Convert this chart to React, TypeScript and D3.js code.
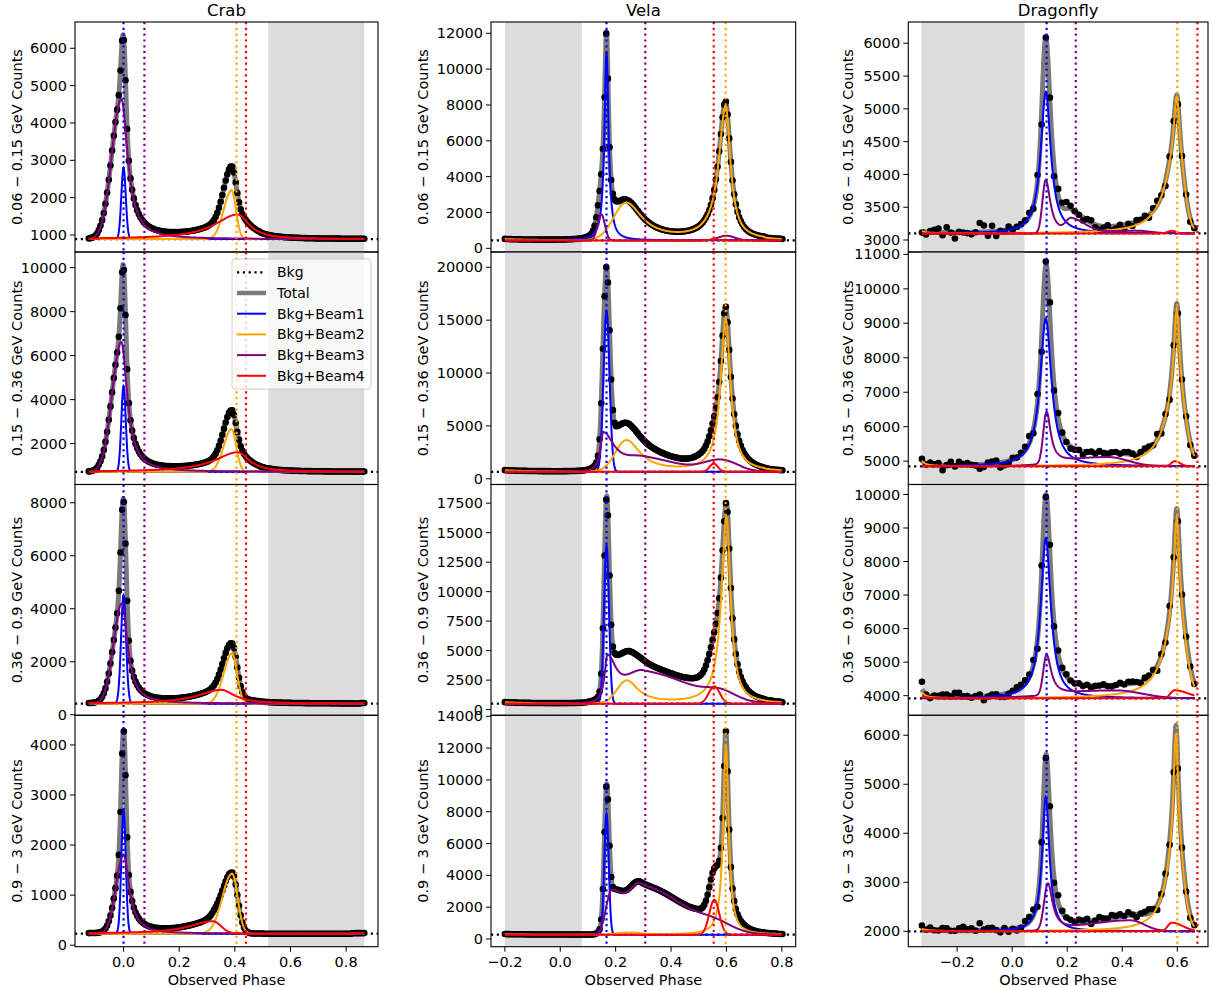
import { useMemo } from 'react';
import * as d3 from 'd3';

// peak: [centre phase, height above bkg, left width, right width, left/right shape]
// shape letters: G gaussian, L lorentzian, Q squared lorentzian
type Peak = [number, number, number, number, string];

const W = 1212;
const H = 987;
const FONT = 'DejaVu Sans, Verdana, sans-serif';

const PULSARS = ['Crab', 'Vela', 'Dragonfly'];
const BANDS = ['0.06 − 0.15', '0.15 − 0.36', '0.36 − 0.9', '0.9 − 3'];
const BEAM_NAMES = ['Bkg+Beam1', 'Bkg+Beam2', 'Bkg+Beam3', 'Bkg+Beam4'];
const BEAM_COLORS = ['#0000ff', '#ffa500', '#800080', '#ff0000'];

// ---- Crab ----
const CRAB_PHASE = [-0.125, 0.865, 0.006];
const CRAB_BKG = [890, 715, 420, 230];
const CRAB_BEAM1: Peak[][] = [
  [[0.0, 1910, 0.008, 0.008, 'GG']],
  [[0.0, 3890, 0.008, 0.008, 'GG']],
  [[0.0, 4090, 0.009, 0.009, 'GG']],
  [[0.0, 2460, 0.008, 0.008, 'GG']],
];
const CRAB_BEAM2: Peak[][] = [
  [[0.388, 1310, 0.028, 0.016, 'GG']],
  [[0.388, 1940, 0.028, 0.017, 'GG']],
  [[0.39, 1900, 0.03, 0.018, 'GG']],
  [[0.39, 1200, 0.035, 0.02, 'GG']],
];
const CRAB_BEAM3: Peak[][] = [
  [[-0.008, 3750, 0.034, 0.028, 'GL']],
  [[-0.008, 5900, 0.033, 0.026, 'GL']],
  [[-0.006, 3780, 0.03, 0.025, 'GL']],
  [[0.0, 1580, 0.027, 0.025, 'GL']],
];
const CRAB_BEAM4: Peak[][] = [
  [[0.41, 660, 0.1, 0.05, 'LL']],
  [[0.41, 890, 0.1, 0.05, 'LL']],
  [[0.35, 520, 0.1, 0.06, 'LL']],
  [[0.32, 250, 0.1, 0.03, 'LG']],
];
const CRAB_YLIM = [[545, 6704], [140, 10712], [-20, 8690], [-30, 4592]];
const CRAB_YTICKS = [
  [1000, 2000, 3000, 4000, 5000, 6000],
  [2000, 4000, 6000, 8000, 10000],
  [0, 2000, 4000, 6000, 8000],
  [0, 1000, 2000, 3000, 4000],
];
const CRAB_XTICKS = [0, 0.2, 0.4, 0.6, 0.8];
const CRAB_LINES = [0.0, 0.406, 0.075, 0.44];
const CRAB_SPAN = [0.52, 0.865];

// ---- Vela ----
const VELA_PHASE = [-0.2, 0.8, 0.006];
const VELA_BKG = [440, 660, 500, 270];
const VELA_BEAM1: Peak[][] = [
  [[0.167, 10500, 0.009, 0.009, 'LL']],
  [[0.167, 15200, 0.011, 0.011, 'GG']],
  [[0.167, 13420, 0.009, 0.009, 'GG']],
  [[0.167, 7600, 0.008, 0.008, 'GG']],
];
const VELA_BEAM2: Peak[][] = [
  [[0.238, 2060, 0.045, 0.07, 'GL'], [0.597, 7430, 0.03, 0.021, 'LL']],
  [[0.239, 2950, 0.04, 0.06, 'GL'], [0.597, 14440, 0.022, 0.021, 'LL']],
  [[0.24, 1920, 0.035, 0.05, 'GL'], [0.6, 15800, 0.022, 0.018, 'LL']],
  [[0.25, 130, 0.04, 0.04, 'GG'], [0.598, 11900, 0.012, 0.012, 'LL']],
];
const VELA_BEAM3: Peak[][] = [
  [[0.148, 1460, 0.013, 0.013, 'GG'], [0.6, 260, 0.03, 0.03, 'GG']],
  [[0.155, 3700, 0.012, 0.05, 'LL'], [0.3, 1100, 0.06, 0.12, 'GG'], [0.58, 1050, 0.06, 0.06, 'GG']],
  [[0.17, 3900, 0.012, 0.04, 'LL'], [0.3, 2500, 0.06, 0.17, 'GG'], [0.58, 600, 0.05, 0.05, 'GG']],
  [[0.185, 2700, 0.02, 0.045, 'GG'], [0.29, 3050, 0.04, 0.15, 'GG'], [0.56, 450, 0.06, 0.06, 'GG']],
];
const VELA_BEAM4: Peak[][] = [
  [[0.554, 40, 0.02, 0.02, 'GG']],
  [[0.554, 780, 0.015, 0.015, 'GG']],
  [[0.556, 1470, 0.02, 0.02, 'GG']],
  [[0.556, 2190, 0.018, 0.018, 'GG']],
];
const VELA_YLIM = [[-206, 12631], [-538, 21443], [-482, 19083], [-483, 14063]];
const VELA_YTICKS = [
  [0, 2000, 4000, 6000, 8000, 10000, 12000],
  [0, 5000, 10000, 15000, 20000],
  [0, 2500, 5000, 7500, 10000, 12500, 15000, 17500],
  [0, 2000, 4000, 6000, 8000, 10000, 12000, 14000],
];
const VELA_XTICKS = [-0.2, 0, 0.2, 0.4, 0.6, 0.8];
const VELA_LINES = [0.167, 0.597, 0.307, 0.554];
const VELA_SPAN = [-0.2, 0.078];

// ---- Dragonfly ----
const DRAG_PHASE = [-0.328, 0.662, 0.015];
const DRAG_BKG = [3100, 4850, 3920, 2000];
const DRAG_BEAM1: Peak[][] = [
  [[0.122, 2160, 0.022, 0.022, 'LL']],
  [[0.122, 4280, 0.025, 0.025, 'LL']],
  [[0.122, 4770, 0.022, 0.022, 'LL']],
  [[0.122, 2740, 0.016, 0.016, 'LL']],
];
// second pulse: sharp core on a broader base
const DRAG_BEAM2: Peak[][] = [
  [[0.598, 900, 0.012, 0.012, 'LL'], [0.598, 1185, 0.05, 0.025, 'LG']],
  [[0.598, 2500, 0.012, 0.012, 'LL'], [0.598, 2070, 0.05, 0.03, 'LG']],
  [[0.598, 2950, 0.012, 0.012, 'LL'], [0.598, 2450, 0.05, 0.03, 'LG']],
  [[0.595, 2300, 0.01, 0.01, 'LL'], [0.595, 1730, 0.04, 0.025, 'LG']],
];
const DRAG_BEAM3: Peak[][] = [
  [[0.122, 815, 0.012, 0.02, 'GL'], [0.215, 200, 0.02, 0.05, 'GG'], [0.45, 40, 0.1, 0.05, 'GG']],
  [[0.125, 1500, 0.012, 0.018, 'GL'], [0.35, 260, 0.15, 0.07, 'GG']],
  [[0.125, 1200, 0.012, 0.02, 'GL'], [0.38, 230, 0.2, 0.09, 'GG']],
  [[0.13, 950, 0.014, 0.02, 'GL'], [0.43, 220, 0.15, 0.05, 'GG']],
];
const DRAG_BEAM4: Peak[][] = [
  [[0.58, 40, 0.015, 0.015, 'GG']],
  [[0.59, 150, 0.012, 0.02, 'GG']],
  [[0.59, 240, 0.015, 0.05, 'GG']],
  [[0.58, 175, 0.015, 0.04, 'GG']],
];
// scatter of the binned counts about the fit
const DRAG_RESID = [
  [-30, -40, 20, 40, 60, -40, 80, 0, -90, 10, 0, -10, -30, 0, 140, 100, -60, 90, -70, 0, -20, 50, -10, 10, 20,
    30, 60, -40, 100, -200, 0, 60, -150, 100, 60, 100,
    40, 0, -10, -50, 20, 40, -40, -60, -20, 20, -60, -40, 10, -70, 0, -50, 20, 0, 30, -40, 40, 60, 0, -80, 40, 50, -30, 30, 20, -50, 0],
  [40, -30, 60, 20, 60, -150, 0, 100, -40, 100, 30, 60, 0, -20, -120, -80, 40, 60, 80, -140, -100, -60, 50, 0, 60,
    100, 200, -100, 250, -400, 100, 450, -150, 150, 40, 0,
    -60, -20, 20, -100, 0, 20, -40, 40, -20, -60, 0, 20, -20, 50, 60, 20, -80, 40, 100, 80, 0, 150, -100, 60, -200, 20, 0, 40, 60, -80, 0],
  [230, -20, -70, 30, 30, 80, 80, 30, 130, 130, 30, 30, -20, 30, 60, -120, -20, 30, 30, -70, -90, -20, 30, 80, 80,
    100, 80, 150, -300, 200, -60, 300, -100, 120, 40, 60,
    0, -20, 30, -30, 20, -60, 0, 10, 40, -20, -40, 0, 50, -10, 60, 50, 20, -50, 60, 40, 80, -150, 40, -100, 150, 0, -60, 20, 40, 0, -20],
  [50, 0, 50, 0, 0, 50, 50, 0, 0, 50, 80, 30, 50, 0, 150, 20, 50, 50, 0, -50, 30, -50, 0, -50, -20,
    80, 100, 120, -150, 80, -50, 200, -100, 150, 40, 0,
    0, -20, 40, 20, 50, -60, 0, 60, 20, 0, 60, 30, 50, 0, 60, 0, -60, 20, 50, 80, 30, -100, 20, 50, -60, 0, -40, 20, 0, -50, 0],
];
const DRAG_YLIM = [[2817, 6325], [4323, 11069], [3415, 10297], [1686, 6407]];
const DRAG_YTICKS = [
  [3000, 3500, 4000, 4500, 5000, 5500, 6000],
  [5000, 6000, 7000, 8000, 9000, 10000, 11000],
  [4000, 5000, 6000, 7000, 8000, 9000, 10000],
  [2000, 3000, 4000, 5000, 6000],
];
const DRAG_XTICKS = [-0.2, 0, 0.2, 0.4, 0.6];
const DRAG_LINES = [0.125, 0.6, 0.231, 0.673];
const DRAG_SPAN = [-0.33, 0.045];

// ---- layout ----
const COL_X = [[75, 378], [491, 795.7], [908.3, 1208]];
const ROW_Y = [22, 252, 484.5, 715.3, 946.7];
const YLAB_X = [21.5, 428, 853];

const PULSAR_DATA = [
  { phase: CRAB_PHASE, bkg: CRAB_BKG, beams: [CRAB_BEAM1, CRAB_BEAM2, CRAB_BEAM3, CRAB_BEAM4], ylim: CRAB_YLIM, yticks: CRAB_YTICKS, xticks: CRAB_XTICKS, lines: CRAB_LINES, span: CRAB_SPAN, resid: null as number[][] | null },
  { phase: VELA_PHASE, bkg: VELA_BKG, beams: [VELA_BEAM1, VELA_BEAM2, VELA_BEAM3, VELA_BEAM4], ylim: VELA_YLIM, yticks: VELA_YTICKS, xticks: VELA_XTICKS, lines: VELA_LINES, span: VELA_SPAN, resid: null as number[][] | null },
  { phase: DRAG_PHASE, bkg: DRAG_BKG, beams: [DRAG_BEAM1, DRAG_BEAM2, DRAG_BEAM3, DRAG_BEAM4], ylim: DRAG_YLIM, yticks: DRAG_YTICKS, xticks: DRAG_XTICKS, lines: DRAG_LINES, span: DRAG_SPAN, resid: DRAG_RESID },
];

function profile(u: number, k: string) {
  if (k === 'G') return Math.exp(-0.5 * u * u);
  if (k === 'L') return 1 / (1 + u * u);
  const s = 1 + u * u;
  return 1 / (s * s);
}

function beamAt(peaks: Peak[], x: number) {
  let v = 0;
  for (const [mu, amp, wl, wr, kind] of peaks) {
    let dx = x - mu;
    dx -= Math.round(dx); // phase wraps around
    const left = dx < 0;
    v += amp * profile(dx / (left ? wl : wr), kind[left ? 0 : 1]);
  }
  return v;
}

const fmtX = d3.format('.1f');

function Panel({ col, row }: { col: number; row: number }) {
  const d = PULSAR_DATA[col];
  const [lo, hi, step] = d.phase;
  const pad = (hi - lo) * 0.05;
  const [left, right] = COL_X[col];
  const top = ROW_Y[row];
  const bottom = ROW_Y[row + 1];
  const x = d3.scaleLinear().domain([lo - pad, hi + pad]).range([left, right]);
  const y = d3.scaleLinear().domain(d.ylim[row]).range([bottom, top]);
  const bkg = d.bkg[row];
  const beams = d.beams.map(b => b[row]);
  const id = `clip-${col}-${row}`;

  const { curves, total, dots } = useMemo(() => {
    const xs = d3.range(lo, hi + 1e-9, 0.001);
    const totalFn = (p: number) => bkg + d3.sum(beams, b => beamAt(b, p));
    const line = d3.line<[number, number]>().x(v => x(v[0])).y(v => y(v[1]));
    const curves = beams.map(b => line(xs.map(p => [p, bkg + beamAt(b, p)] as [number, number])) || '');
    const total = line(xs.map(p => [p, totalFn(p)] as [number, number])) || '';
    const n = Math.round((hi - lo) / step);
    const dots = d3.range(n + 1).map(i => {
      const p = lo + i * step;
      const r = d.resid ? d.resid[row][i] ?? 0 : 0;
      return [x(p), y(totalFn(p) + r)];
    });
    return { curves, total, dots };
  }, [col, row]);

  return (
    <g>
      <defs>
        <clipPath id={id}>
          <rect x={left} y={top} width={right - left} height={bottom - top} />
        </clipPath>
      </defs>
      <g clipPath={`url(#${id})`}>
        <rect x={x(d.span[0])} y={top} width={x(d.span[1]) - x(d.span[0])} height={bottom - top} fill="#dcdcdc" />
        <path d={total} fill="none" stroke="#7a7a7a" strokeWidth={5} strokeLinejoin="round" />
        {dots.map((p, i) => (
          <circle key={i} cx={p[0]} cy={p[1]} r={3.3} fill="#000" />
        ))}
        <line x1={left} x2={right} y1={y(bkg)} y2={y(bkg)} stroke="#000" strokeWidth={2.2} strokeDasharray="2.2 3.6" />
        {curves.map((c, k) => (
          <path key={k} d={c} fill="none" stroke={BEAM_COLORS[k]} strokeWidth={2} />
        ))}
        {d.lines.map((v, k) => (
          <line key={k} x1={x(v)} x2={x(v)} y1={top} y2={bottom} stroke={BEAM_COLORS[k]} strokeWidth={2.2} strokeDasharray="2.2 3.6" />
        ))}
      </g>
      {d.yticks[row].map(t => (
        <g key={t}>
          <line x1={left - 5} x2={left} y1={y(t)} y2={y(t)} stroke="#000" strokeWidth={1} />
          <text x={left - 8} y={y(t)} dy="0.35em" textAnchor="end" fontSize={14.5}>{t}</text>
        </g>
      ))}
      {row === 3 && d.xticks.map(t => (
        <g key={t}>
          <line x1={x(t)} x2={x(t)} y1={bottom} y2={bottom + 5} stroke="#000" strokeWidth={1} />
          <text x={x(t)} y={bottom + 20.5} textAnchor="middle" fontSize={14.5}>{fmtX(t)}</text>
        </g>
      ))}
      <text transform={`translate(${YLAB_X[col]},${(top + bottom) / 2}) rotate(-90)`} textAnchor="middle" fontSize={14.5}>
        {`${BANDS[row]} GeV Counts`}
      </text>
      <rect x={left} y={top} width={right - left} height={bottom - top} fill="none" stroke="#000" strokeWidth={1.1} />
    </g>
  );
}

function Legend() {
  const x0 = 232;
  const y0 = 259;
  const rowY = (i: number) => 272.3 + i * 20.7;
  const entries = [
    { name: 'Bkg', color: '#000', width: 2.2, dash: '2.2 3.6' },
    { name: 'Total', color: '#7a7a7a', width: 4.5, dash: undefined },
    ...BEAM_NAMES.map((name, k) => ({ name, color: BEAM_COLORS[k], width: 2, dash: undefined })),
  ];
  return (
    <g>
      <rect x={x0} y={y0} width={139} height={130} rx={3} fill="#fff" fillOpacity={0.8} stroke="#cccccc" strokeWidth={1} />
      {entries.map((e, i) => (
        <g key={e.name}>
          <line x1={237} x2={266} y1={rowY(i)} y2={rowY(i)} stroke={e.color} strokeWidth={e.width} strokeDasharray={e.dash} />
          <text x={277} y={rowY(i)} dy="0.35em" fontSize={14}>{e.name}</text>
        </g>
      ))}
    </g>
  );
}

export default function App() {
  return (
    <svg
      width={W}
      height={H}
      viewBox={`0 0 ${W} ${H}`}
      style={{ position: 'absolute', left: 0, top: 0, background: '#fff' }}
      fontFamily={FONT}
      fill="#000"
    >
      <rect width={W} height={H} fill="#fff" />
      {PULSARS.map((name, col) => (
        <g key={name}>
          <text x={(COL_X[col][0] + COL_X[col][1]) / 2} y={15.5} textAnchor="middle" fontSize={16.5}>{name}</text>
          {[0, 1, 2, 3].map(row => (
            <Panel key={row} col={col} row={row} />
          ))}
          <text x={(COL_X[col][0] + COL_X[col][1]) / 2} y={985} textAnchor="middle" fontSize={14.5}>Observed Phase</text>
        </g>
      ))}
      <Legend />
    </svg>
  );
}
